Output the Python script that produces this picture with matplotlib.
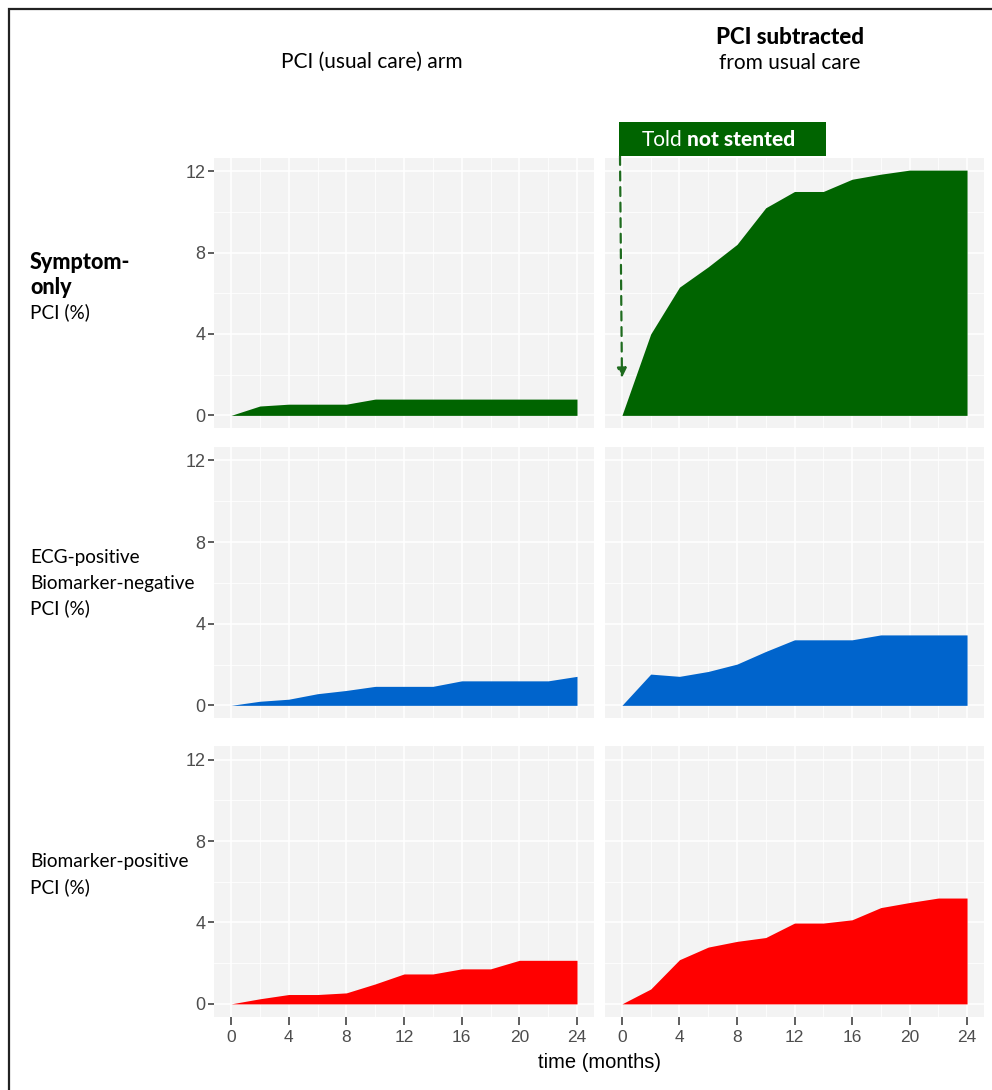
import matplotlib
matplotlib.use('Agg')
import matplotlib.pyplot as plt
from matplotlib.patches import Rectangle

# ---------------- data ----------------
months = [0, 2, 4, 6, 8, 10, 12, 14, 16, 18, 20, 22, 24]
usual_symptom = [0, 0.46, 0.55, 0.55, 0.55, 0.80, 0.80, 0.80, 0.80, 0.80, 0.80, 0.80, 0.80]
sub_symptom = [0, 4.0, 6.3, 7.3, 8.4, 10.2, 11.0, 11.0, 11.6, 11.85, 12.05, 12.05, 12.05]
usual_ecg = [0, 0.20, 0.30, 0.57, 0.73, 0.93, 0.93, 0.93, 1.20, 1.20, 1.20, 1.20, 1.42]
sub_ecg = [0, 1.53, 1.42, 1.66, 2.02, 2.64, 3.21, 3.21, 3.21, 3.45, 3.45, 3.45, 3.45]
usual_bio = [0, 0.25, 0.46, 0.46, 0.54, 0.98, 1.47, 1.47, 1.72, 1.72, 2.14, 2.14, 2.14]
sub_bio = [0, 0.73, 2.17, 2.79, 3.07, 3.26, 3.97, 3.97, 4.13, 4.73, 4.98, 5.20, 5.20]

col_titles = ["PCI (usual care) arm", "PCI subtracted", "from usual care"]
x_ticks = [0, 4, 8, 12, 16, 20, 24]
y_ticks = [0, 4, 8, 12]
x_label = "time (months)"
colors = ["#006400", "#0064CC", "#FF0000"]

rows = [(usual_symptom, sub_symptom), (usual_ecg, sub_ecg), (usual_bio, sub_bio)]

W, H = 992, 1090
fig = plt.figure(figsize=(W / 100, H / 100), dpi=100)
fig.patch.set_facecolor('white')

def fx(px):
    return px / W

def fy(py):
    return 1 - py / H

row_px = [(157.5, 428), (446.7, 718), (746, 1016.5)]
col_px = [(213.7, 594.3), (604.7, 984.3)]

TICKFONT = ['Liberation Sans', 'DejaVu Sans']
LABFONT = ['Lato', 'DejaVu Sans']

axes = []
for r, (t, b) in enumerate(row_px):
    for c, (l, rr) in enumerate(col_px):
        ax = fig.add_axes([fx(l), fy(b), fx(rr) - fx(l), (b - t) / H])
        ax.set_facecolor('#F3F3F3')
        data = rows[r][c]
        ax.fill_between(months, 0, data, color=colors[r], lw=0, zorder=3)
        ax.set_xlim(-1.2, 25.2)
        ax.set_ylim(-0.62, 12.67)
        ax.set_xticks(x_ticks)
        ax.set_xticks([2, 6, 10, 14, 18, 22], minor=True)
        ax.set_yticks(y_ticks)
        ax.set_yticks([2, 6, 10], minor=True)
        ax.grid(which='major', color='white', lw=1.1, zorder=1)
        ax.grid(which='minor', color='white', lw=0.55, zorder=1)
        ax.set_axisbelow(True)
        for s in ax.spines.values():
            s.set_visible(False)
        ax.tick_params(which='minor', length=0)
        ax.tick_params(which='major', length=4, width=1.1, color='#333333',
                       labelcolor='#4D4D4D', pad=2)
        if c == 0:
            ax.set_yticklabels([str(v) for v in y_ticks], fontsize=13, family=TICKFONT)
        else:
            ax.tick_params(axis='y', left=False, labelleft=False)
        if r == 2:
            ax.set_xticklabels([str(v) for v in x_ticks], fontsize=12.5, family=TICKFONT)
            ax.tick_params(axis='x', length=6, pad=4)
        else:
            ax.tick_params(axis='x', bottom=False, labelbottom=False)
        axes.append(ax)

# column headers
fig.text(fx(372), fy(62), col_titles[0], ha='center', va='center', fontsize=15, family=LABFONT)
fig.text(fx(790), fy(37), col_titles[1], ha='center', va='center', fontsize=16, family=LABFONT, weight='black')
fig.text(fx(790), fy(63), col_titles[2], ha='center', va='center', fontsize=15, family=LABFONT)

# row labels
RL = 13.7
fig.text(fx(30), fy(262), "Symptom-", ha='left', va='center', fontsize=15.5, family=LABFONT, weight='black')
fig.text(fx(30), fy(287), "only", ha='left', va='center', fontsize=15.5, family=LABFONT, weight='black')
fig.text(fx(30), fy(312), "PCI (%)", ha='left', va='center', fontsize=RL, family=LABFONT)

fig.text(fx(30), fy(558), "ECG-positive", ha='left', va='center', fontsize=RL, family=LABFONT)
fig.text(fx(30), fy(583), "Biomarker-negative", ha='left', va='center', fontsize=RL, family=LABFONT)
fig.text(fx(30), fy(608), "PCI (%)", ha='left', va='center', fontsize=RL, family=LABFONT)

fig.text(fx(30), fy(862), "Biomarker-positive", ha='left', va='center', fontsize=RL, family=LABFONT)
fig.text(fx(30), fy(887), "PCI (%)", ha='left', va='center', fontsize=RL, family=LABFONT)

# x axis title
fig.text(fx(600), fy(1063), x_label, ha='center', va='center', fontsize=14.5, family=TICKFONT)

# annotation box
fig.patches.append(Rectangle((fx(619), fy(156)), fx(826) - fx(619), (156 - 122) / H,
                             transform=fig.transFigure, facecolor='#006400', edgecolor='none',
                             zorder=5))
fig.text(fx(682), fy(146), "Told", ha='right', va='baseline', fontsize=15, family=LABFONT,
         color='white', zorder=6)
fig.text(fx(687), fy(146), "not stented", ha='left', va='baseline', fontsize=15, family=LABFONT,
         color='white', weight='black', zorder=6)

ax_tr = axes[1]
ax_tr.annotate("", xy=(0, 1.85), xycoords='data',
               xytext=(fx(620), fy(156)), textcoords='figure fraction',
               arrowprops=dict(arrowstyle='-|>', linestyle=(0, (4, 3)), color='#1E6B1E',
                               lw=1.6, mutation_scale=14, shrinkA=0, shrinkB=0),
               annotation_clip=False, zorder=6)

# outer border (left and top)
fig.patches.append(Rectangle((fx(9), fy(1200)), 2, fy(9) - fy(1200), transform=fig.transFigure,
                             facecolor='none', edgecolor='#222222', lw=1.6, zorder=10))

fig.savefig('out.png', dpi=100, facecolor='white')
